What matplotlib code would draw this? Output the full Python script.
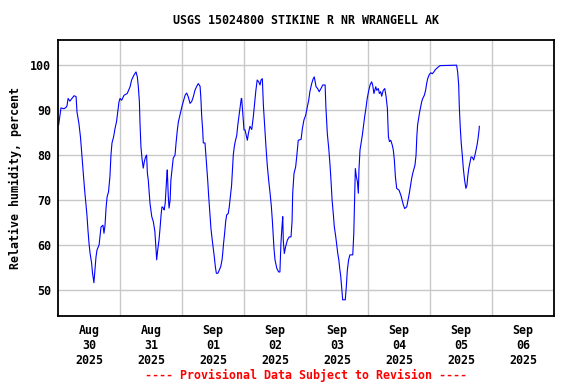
import matplotlib
matplotlib.use("Agg")
import matplotlib.pyplot as plt
import numpy as np

# hours since 2025-08-30 00:00 (local) and relative humidity, percent
hours = [0.25, 1.16, 2.3, 3.1, 3.5, 3.9, 4.6, 5.4, 6.2, 7.0, 7.35, 8.1, 8.7, 9.1, 9.5, 9.9,
         10.25, 10.65, 11.2, 11.6, 12.0, 12.4, 13.0, 13.35, 13.9, 14.3, 14.7, 15.1, 15.9,
         16.25, 16.65, 17.4, 17.8, 18.2, 18.6, 19.0, 19.55, 20.1, 20.5, 20.9, 21.5, 22.1,
         22.65, 23.2, 23.6,
         24.0, 24.65, 25.55, 26.8, 27.9, 28.5, 29.4, 30.2, 30.7, 31.1, 31.5, 31.75, 32.1,
         32.5, 33.0, 33.4, 33.9, 34.3, 34.6, 34.95, 35.3, 35.6, 36.3, 36.9, 37.5, 37.9,
         38.2, 38.6, 39.1, 39.5, 39.9, 40.25, 40.8, 41.1, 41.5, 42.1, 42.3, 42.7, 43.0,
         43.4, 43.7, 44.2, 44.6, 45.3, 45.7, 46.2, 46.6, 47.2, 47.6,
         48.1, 48.5, 49.2, 49.8, 50.4, 51.1, 51.75, 52.4, 53.0, 53.7, 54.3, 55.0, 55.35,
         55.6, 56.0, 56.25, 56.9, 57.3, 57.55, 57.95, 58.3, 58.8, 59.2, 59.7, 60.1, 60.5,
         60.9, 61.3, 61.9, 62.4, 63.0, 63.5, 63.75, 64.1, 64.5, 64.9, 65.3, 65.9, 66.3,
         66.7, 67.2, 67.6, 67.85, 68.25, 68.6, 69.2, 69.6, 70.1, 70.45, 70.95, 71.1,
         71.7, 72.0, 72.4, 73.0, 73.3, 73.7, 74.3, 75.0, 75.6, 76.1, 76.6, 77.1, 77.7,
         78.2, 78.6, 79.1, 79.5, 80.0, 80.5, 81.0, 81.55, 82.1, 82.6, 83.0, 83.35, 83.6,
         84.0, 84.7, 85.4, 85.9, 86.3, 86.7, 87.0, 87.2, 87.6, 88.1, 88.8, 89.5, 90.2,
         90.6, 90.85, 91.35, 92.0, 92.4, 93.0, 94.1, 94.6, 95.2, 95.9, 96.5, 97.05, 97.5,
         98.2, 98.8, 99.2, 99.9, 100.5, 101.1, 101.8, 102.5, 103.4, 103.7, 104.25, 104.8,
         105.3, 105.7, 106.1, 106.6, 106.95, 107.5, 107.9, 108.3, 108.7, 109.05, 109.45,
         109.8, 110.2, 111.2, 111.6, 112.0, 112.5, 113.0, 114.1, 114.5, 114.85, 115.1,
         115.5, 115.9, 116.25, 116.5, 116.9, 117.3, 117.8, 118.2, 118.7, 119.2, 119.7,
         120.3, 120.8, 121.4, 121.8, 122.3, 123.0, 123.4, 124.0, 124.4, 124.9, 125.3,
         125.9, 126.5, 127.0, 127.5, 127.9, 128.3, 128.8, 129.4, 129.8, 130.2, 130.6,
         131.1, 132.0, 132.7, 133.2, 133.7, 134.2, 135.0, 135.5, 136.0, 136.5, 136.9,
         137.3, 137.8, 138.2, 138.6, 138.9, 139.2, 139.6, 140.0, 140.4, 140.8, 141.2,
         141.8, 142.3, 142.7, 143.1, 143.7, 144.3, 144.9, 145.5, 146.05, 146.6, 147.2,
         147.9, 154.3, 154.7, 155.1, 155.35, 155.7, 156.1, 156.5, 156.9, 157.4, 157.9,
         158.3, 158.6, 159.0, 159.5, 159.9, 160.4, 160.9, 161.4, 161.8, 162.2, 162.6,
         163.0, 163.1]
humidity = [86.7, 90.5, 90.3, 90.6, 91.0, 92.6, 92.0, 92.6, 93.2, 93.0, 89.6, 87.0, 84.0, 81.0,
            78.0, 75.2, 72.6, 70.0, 66.7, 63.3, 60.4, 58.2, 56.0, 53.8, 51.6, 54.4, 57.3,
            58.9, 60.0, 61.8, 64.0, 64.4, 62.6, 64.4, 68.2, 70.7, 71.8, 75.2, 80.0, 82.7,
            84.0, 86.0, 87.4, 90.0, 91.8,
            92.6, 92.2, 93.3, 93.7, 95.2, 96.7, 97.8, 98.5, 97.4, 95.2, 91.9, 87.0, 81.9,
            79.3, 77.1, 78.5, 79.6, 80.0, 76.0, 74.4, 71.5, 69.3, 66.3, 65.2, 63.0, 59.3,
            56.7, 58.9, 61.1, 63.7, 66.7, 68.5, 68.2, 67.8, 69.3, 75.2, 76.7, 70.7, 68.2,
            70.0, 74.4, 77.1, 79.3, 80.0, 82.7, 85.6, 87.4, 88.9, 90.0,
            91.1, 91.9, 93.3, 93.8, 93.0, 91.5, 91.9, 93.0, 94.4, 95.3, 95.9, 95.3, 92.2,
            88.9, 85.6, 82.7, 82.7, 79.6, 77.4, 74.4, 71.1, 67.1, 63.7, 61.1, 59.3, 57.4,
            55.2, 53.7, 53.7, 54.4, 55.2, 56.7, 58.1, 60.4, 62.6, 65.2, 66.7, 67.0, 68.5,
            70.7, 73.3, 77.4, 80.0, 81.9, 83.0, 84.4, 86.7, 88.9, 90.4, 92.6, 92.6,
            87.8, 85.6, 85.6, 84.1, 83.3, 84.8, 86.4, 85.7, 88.5, 91.5, 94.4, 96.7, 96.3,
            95.6, 96.7, 97.0, 91.1, 86.3, 81.9, 77.8, 74.4, 71.5, 68.5, 65.2, 61.9, 59.3,
            56.7, 54.8, 54.0, 54.0, 60.4, 64.1, 66.3, 61.1, 58.1, 59.6, 61.1, 61.8, 61.8,
            65.2, 71.5, 75.9, 77.4, 79.6, 83.3, 83.5, 85.9, 87.8, 88.9, 90.7, 92.2, 94.1,
            95.9, 97.0, 97.4, 95.2, 94.8, 94.1, 94.8, 95.6, 95.6, 90.7, 84.8, 81.5,
            77.8, 74.1, 70.0, 66.7, 64.1, 61.9, 60.0, 58.1, 56.7, 54.8, 53.0,
            50.7, 47.8, 47.8, 50.7, 54.4, 56.7, 57.8, 57.8, 62.6, 71.5, 77.0,
            75.2, 74.1, 71.5, 76.7, 81.1, 82.6, 84.4, 86.3, 88.5, 90.4, 92.6,
            94.4, 95.6, 96.3, 95.6, 93.7, 95.2, 94.4, 94.8, 93.7, 94.1, 93.1,
            94.4, 94.8, 93.0, 90.4, 84.1, 83.0, 83.3, 82.2, 81.1, 78.9, 75.2,
            72.6, 72.2, 71.1, 70.0, 68.9, 68.1, 68.5, 70.0, 71.5, 73.3, 74.8,
            75.9, 77.0, 77.8, 80.0, 84.1, 86.7, 88.1, 89.6, 90.7, 91.9, 92.6,
            93.3, 94.4, 95.9, 97.0, 97.9, 98.3, 98.1, 98.5, 99.0, 99.3, 99.6,
            99.9, 100.0, 98.5, 95.6, 90.7, 86.3, 82.6, 80.0, 77.0, 74.4, 72.6,
            73.3, 75.2, 77.0, 78.5, 79.6, 79.5, 78.9, 80.0, 81.1, 82.2, 83.7,
            85.6, 86.4]

day_labels = ["Aug\n30\n2025", "Aug\n31\n2025", "Sep\n01\n2025", "Sep\n02\n2025",
              "Sep\n03\n2025", "Sep\n04\n2025", "Sep\n05\n2025", "Sep\n06\n2025"]
y_ticks = [50, 60, 70, 80, 90, 100]

title = "USGS 15024800 STIKINE R NR WRANGELL AK"
ylabel = "Relative humidity, percent"
footer = "---- Provisional Data Subject to Revision ----"

FONT = "DejaVu Sans Mono"
FS = 8.4

fig = plt.figure(figsize=(5.76, 3.84), dpi=100)
ax = fig.add_axes([58/576, 1 - 316/384, 496/576, 276/384])

ax.plot(hours, humidity, color="#0000FF", linewidth=0.8)

ax.set_xlim(0, 24 * len(day_labels))
ax.set_ylim(44.2, 105.6)

ax.set_xticks([24 * i for i in range(1, len(day_labels))])
ax.set_xticklabels([])
ax.set_xticks([12 + 24 * i for i in range(len(day_labels))], minor=True)
ax.set_xticklabels(day_labels, minor=True, fontfamily=FONT, fontweight="bold",
                   fontsize=FS, linespacing=1.2)
ax.tick_params(axis="x", which="both", length=0, pad=6)

ax.set_yticks(y_ticks)
ax.set_yticklabels([str(v) for v in y_ticks], fontfamily=FONT, fontweight="bold",
                   fontsize=FS)
ax.tick_params(axis="y", length=0, pad=5)

ax.grid(True, which="major", color="#C8C8C8", linewidth=1.0)
ax.set_axisbelow(True)
for sp in ax.spines.values():
    sp.set_linewidth(1.3)
    sp.set_color("black")

ax.set_ylabel(ylabel, fontfamily=FONT, fontweight="bold", fontsize=FS, labelpad=6)
fig.text(0.5 * (58 + 554) / 576, 1 - 20 / 384, title, ha="center", va="center",
         fontfamily=FONT, fontweight="bold", fontsize=FS)
fig.text(0.5 * (58 + 554) / 576, 1 - 375 / 384, footer, ha="center", va="center",
         fontfamily=FONT, fontweight="bold", fontsize=FS, color="#FF0000")

fig.savefig("out.png", dpi=100)
